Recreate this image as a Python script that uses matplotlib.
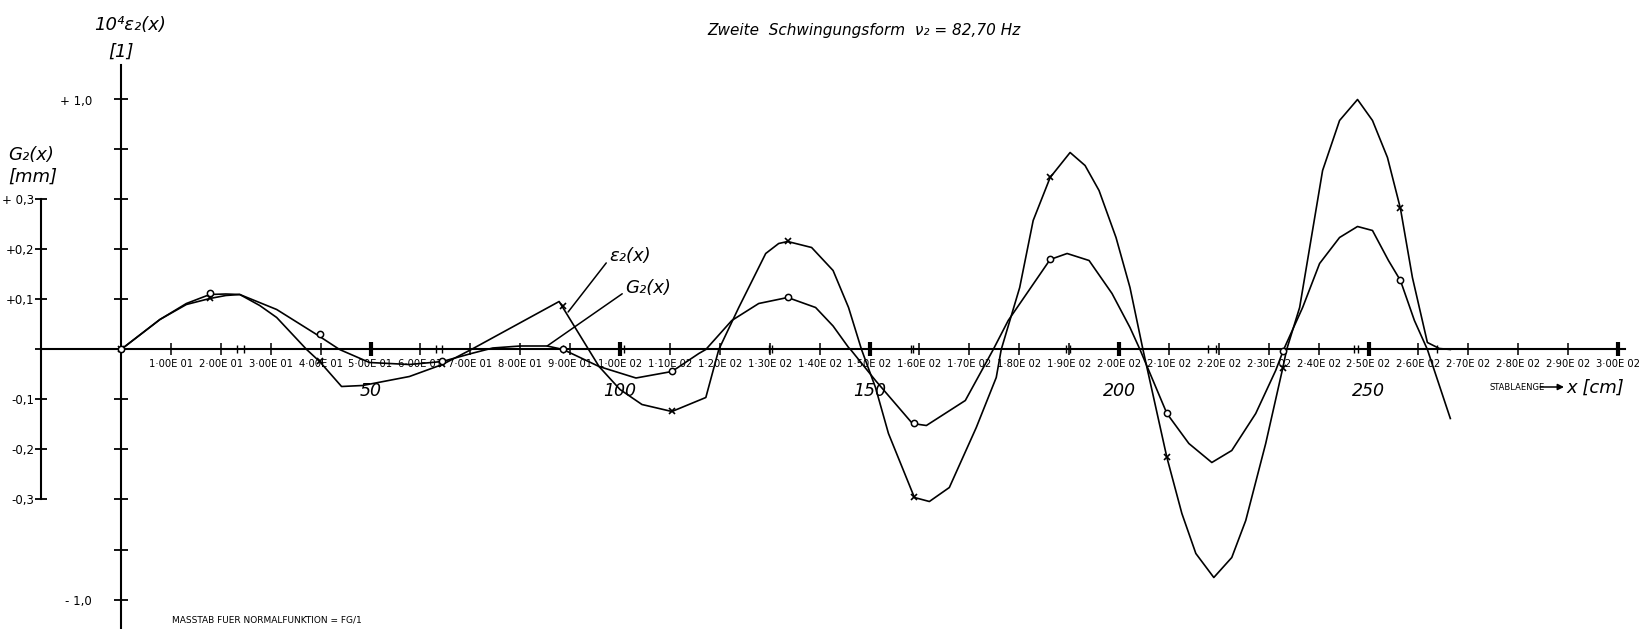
import matplotlib
matplotlib.use('Agg')
import matplotlib.pyplot as plt
import numpy as np

# Dehnung 10^4 * eps_2(x), Stuetzstellen der gezeichneten Kurve
eps_x = [0, 7.8, 13.1, 17.8, 21.0, 23.8, 27.8, 31.2, 37.2, 39.8, 44.2, 48.4, 57.8, 64.4, 70.2,
         87.8, 95.8, 100, 104.4, 110.4, 117.2, 119.8, 123.8, 129.2, 131.8, 133.6, 138.4, 142.7,
         145.8, 148.4, 151.2, 153.8, 159, 162, 166, 171.4, 175.4, 176.4, 180.1, 182.8, 186.2,
         190.2, 193.2, 196, 199.4, 202.2, 204.8, 209.6, 212.6, 215.4, 219, 222.6, 225.4, 229.4,
         232.8, 233.6, 236.2, 240.8, 244.2, 247.8, 250.8, 253.8, 256.4, 258.8, 261.8, 264.2, 266.4]
eps_v = [0, 0.12, 0.18, 0.204, 0.216, 0.22, 0.176, 0.128, 0, -0.048, -0.148, -0.144, -0.108, -0.06, 0,
         0.192, -0.068, -0.16, -0.22, -0.248, -0.192, 0, 0.168, 0.384, 0.424, 0.432, 0.408, 0.316,
         0.168, 0, -0.152, -0.336, -0.592, -0.608, -0.552, -0.312, -0.112, 0, 0.248, 0.516, 0.688,
         0.788, 0.736, 0.636, 0.448, 0.248, 0, -0.432, -0.656, -0.816, -0.912, -0.832, -0.684, -0.376,
         -0.076, 0, 0.168, 0.716, 0.916, 1.0, 0.916, 0.768, 0.564, 0.288, 0.028, 0.004, 0]

# Normalfunktion G_2(x) in mm
g_x = [0, 7.8, 13.1, 17.8, 21.0, 23.8, 31.2, 39.2, 43.8, 49.8, 57.8, 64.4, 70.2, 74.5, 80, 85.4,
       88.6, 95.8, 103.2, 110.4, 115.8, 117.2, 122.4, 127.8, 133.6, 139.2, 142.7, 145.8, 146.2,
       151.2, 158.6, 161.4, 169.2, 174.8, 177.8, 186.2, 189.6, 194, 198.6, 202.2, 204.2, 209.6,
       214, 218.6, 222.6, 227.4, 231.4, 233, 236.8, 240.2, 244.2, 247.8, 250.8, 254, 256.4,
       259.2, 261.8, 266.4]
g_v = [0, 0.06, 0.092, 0.11, 0.111, 0.11, 0.08, 0.03, 0, -0.026, -0.03, -0.024, -0.008, 0.003, 0.007,
       0.007, 0, -0.034, -0.057, -0.044, -0.008, 0, 0.058, 0.092, 0.104, 0.084, 0.047, 0.004, 0,
       -0.062, -0.148, -0.152, -0.102, 0, 0.058, 0.18, 0.192, 0.178, 0.112, 0.044, 0, -0.128,
       -0.188, -0.226, -0.202, -0.128, -0.042, 0, 0.084, 0.172, 0.224, 0.246, 0.238, 0.178, 0.138,
       0.058, 0, -0.138]

# Messpunkte
meas_x = [0, 17.8, 39.8, 64.4, 88.6, 110.4, 133.6, 159, 186.2, 209.6, 232.8, 256.4]
eps_meas = [0, 0.204, -0.048, -0.06, 0.172, -0.248, 0.432, -0.592, 0.688, -0.432, -0.076, 0.564]
g_meas = [0, 0.112, 0.03, -0.024, 0.0, -0.044, 0.104, -0.148, 0.18, -0.128, -0.004, 0.138]

# Achsenbeschriftung
x_major = list(range(10, 301, 10))
x_bold = [50, 100, 150, 200, 250, 300]
x_small = [23.3, 24.6, 63.2, 64.4, 88.6, 100.8, 129.8, 130.4, 158.3, 158.8, 189.3, 190.2,
           217.8, 219.4, 247.0, 247.8, 263.8]
x_big_labels = [50, 100, 150, 200, 250]
eps_ticks = [-1.0, -0.8, -0.6, -0.4, -0.2, 0, 0.2, 0.4, 0.6, 0.8, 1.0]
eps_ticklabels = ['- 1,0', '', '', '', '', '', '', '', '', '', '+ 1,0']
g_ticks = [-0.3, -0.2, -0.1, 0, 0.1, 0.2, 0.3]
g_ticklabels = ['-0,3', '-0,2', '-0,1', '', '+0,1', '+0,2', '+ 0,3']


def e_label(v):
    e = int(np.floor(np.log10(v)))
    return ('%.2fE %02d' % (v / 10 ** e, e)).replace('.', '·')


W, H = 1643, 629
x0_px, px_cm = 121, 4.99
y0_px, px_eps = 349.5, 250.0

fig = plt.figure(figsize=(W / 100, H / 100), dpi=100)
ax = fig.add_axes([0, 0, 1, 1])
ax.set_xlim(-x0_px / px_cm, (W - x0_px) / px_cm)
ax.set_ylim(-(H - y0_px) / px_eps, y0_px / px_eps)
ax.patch.set_visible(False)

ax2 = ax.twinx()
ax2.set_ylim(ax.get_ylim()[0] / 2, ax.get_ylim()[1] / 2)
ax2.patch.set_visible(False)

# Achsen
for s in ['top', 'right']:
    ax.spines[s].set_visible(False)
ax.spines['left'].set_position(('data', 0))
ax.spines['left'].set_bounds(ax.get_ylim()[0], (y0_px - 65) / px_eps)
ax.spines['bottom'].set_position(('data', 0))
ax.spines['bottom'].set_bounds(-16, (1625 - x0_px) / px_cm)
ax.spines['left'].set_linewidth(1.5)
ax.spines['bottom'].set_linewidth(1.5)

for s in ['top', 'right', 'bottom']:
    ax2.spines[s].set_visible(False)
ax2.spines['left'].set_visible(True)
ax2.spines['left'].set_position(('data', -16))
ax2.spines['left'].set_bounds(-0.3, 0.3)
ax2.spines['left'].set_linewidth(1.5)
ax2.yaxis.tick_left()

ax.set_yticks(eps_ticks, eps_ticklabels)
ax.tick_params(axis='y', direction='inout', length=10, width=1.3, pad=16, labelsize=8.5)
ax2.set_yticks(g_ticks, g_ticklabels)
ax2.tick_params(axis='y', direction='inout', length=8, width=1.3, pad=1, labelsize=8.5)

ax.set_xticks(x_major, [e_label(v) for v in x_major])
ax.set_xticks(x_small, minor=True)
ax.tick_params(axis='x', which='major', direction='inout', length=9, width=1.1, pad=2,
               labelsize=7.2)
ax.tick_params(axis='x', which='minor', direction='inout', length=6, width=1.0)
ax.plot(x_bold, [0] * len(x_bold), '|', color='black', ms=10, mew=3, clip_on=False)

for v in x_big_labels:
    ax.text(v, -0.166, str(v), ha='center', va='center', fontsize=12.5, style='italic')

# Kurven
ax.plot(eps_x, eps_v, color='black', lw=1.2)
ax.plot(meas_x, eps_meas, 'x', color='black', ms=5, mew=1.2)
ax2.plot(g_x, g_v, color='black', lw=1.2)
ax2.plot(meas_x, g_meas, 'o', color='black', mfc='white', ms=4.5, mew=1.1)

# Kurvenbezeichnungen
ax.annotate('ε₂(x)', xy=(89.6, 0.15), xytext=(97.8, 0.375), fontsize=13, style='italic',
            va='center', ha='left',
            arrowprops=dict(arrowstyle='-', lw=1.1, color='black', shrinkA=0, shrinkB=0,
                            relpos=(0, 0.3)))
ax.annotate('G₂(x)', xy=(85.4, 0.014), xytext=(101, 0.245), fontsize=13, style='italic',
            va='center', ha='left',
            arrowprops=dict(arrowstyle='-', lw=1.1, color='black', shrinkA=0, shrinkB=0,
                            relpos=(0, 0.3)))

# Titel und Achsentitel
fig.text(864 / W, 1 - 31 / H, 'Zweite  Schwingungsform  ν₂ = 82,70 Hz', ha='center',
         va='center', fontsize=11, style='italic')
fig.text(130 / W, 1 - 25 / H, '10⁴ε₂(x)', ha='center', va='center', fontsize=13,
         style='italic')
fig.text(121 / W, 1 - 52 / H, '[1]', ha='center', va='center', fontsize=13, style='italic')
fig.text(8 / W, 1 - 155 / H, 'G₂(x)', ha='left', va='center', fontsize=13, style='italic')
fig.text(8 / W, 1 - 177 / H, '[mm]', ha='left', va='center', fontsize=13, style='italic')
fig.text(1490 / W, 1 - 387 / H, 'STABLAENGE', ha='left', va='center', fontsize=6)
ax.annotate('', xy=(1564 / W, 1 - 387 / H), xytext=(1540 / W, 1 - 387 / H),
            xycoords='figure fraction', textcoords='figure fraction',
            arrowprops=dict(arrowstyle='-|>', lw=1.1, color='black', mutation_scale=9,
                            shrinkA=0, shrinkB=0))
fig.text(1566 / W, 1 - 388 / H, 'x [cm]', ha='left', va='center', fontsize=13, style='italic')
fig.text(172 / W, 1 - 620 / H, 'MASSTAB FUER NORMALFUNKTION = FG/1', ha='left', va='center',
         fontsize=6.5)

fig.savefig('out.png', dpi=100)
